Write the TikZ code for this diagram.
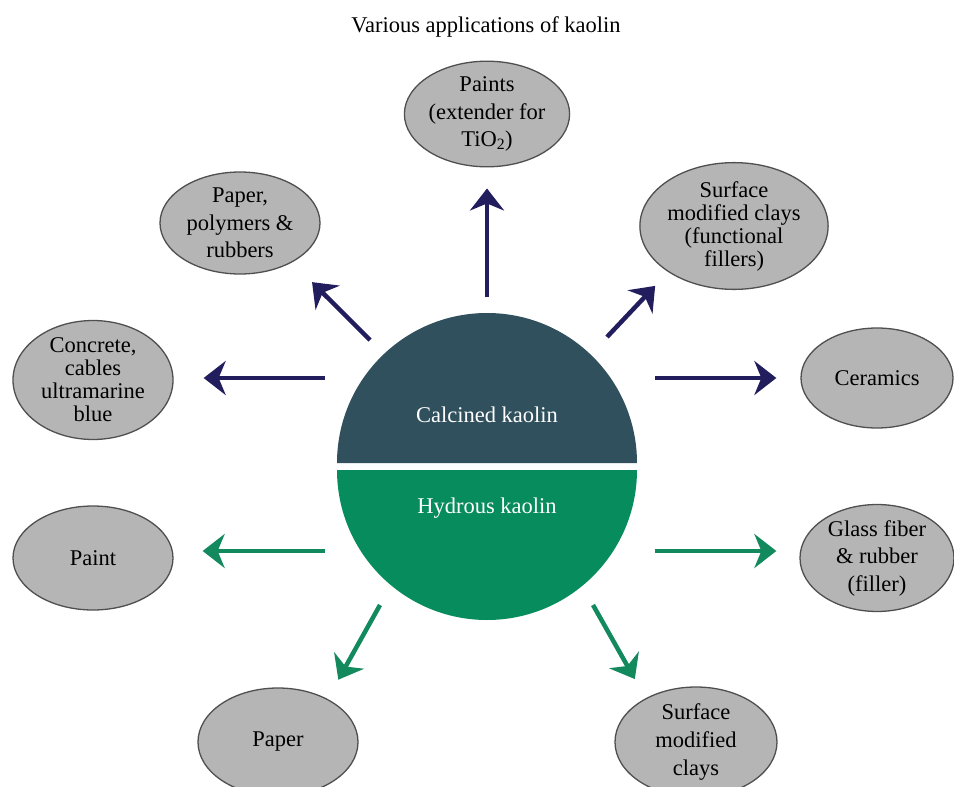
\documentclass[tikz,border=0pt]{standalone}
\usepackage{fontspec}
\setmainfont{LiberationSerif}[Extension=.ttf, UprightFont=*-Regular, BoldFont=*-Bold, ItalicFont=*-Italic, BoldItalicFont=*-BoldItalic]
\usetikzlibrary{arrows.meta, calc, shapes.geometric}
\definecolor{calcinedSlate}{HTML}{2F505C}
\definecolor{hydrousGreen}{HTML}{078C5E}
\definecolor{arrowNavy}{HTML}{221E5E}
\definecolor{arrowGreen}{HTML}{138A5E}
\definecolor{useGrey}{HTML}{B5B5B5}
\definecolor{rimGrey}{HTML}{4F4F4F}

\begin{document}
\begin{tikzpicture}[
  x=1pt, y=-1pt,
  use/.style={
    ellipse, draw=rimGrey, line width=1.3pt, fill=useGrey,
    inner sep=0pt, align=center, text=black,
    font=\rmfamily\fontsize{22.5}{27.5}\selectfont,
  },
  fourline/.style={font=\rmfamily\fontsize{22.5}{23}\selectfont},
  half/.style={font=\rmfamily\fontsize{22.5}{27.5}\selectfont, text=white},
  flow/.style={-{Stealth[length=22pt, width=34pt, inset=7pt]}, draw=#1, line width=4.5pt},
]
\useasboundingbox (0,0) rectangle (954,787);

\node[font=\rmfamily\fontsize{22.5}{27.5}\selectfont] at (486,27) (title) {Various applications of kaolin};

% split kaolin disc
\fill[calcinedSlate] (337,463) arc[start angle=180, end angle=0, radius=150pt] -- cycle;
\fill[hydrousGreen]  (337,470) arc[start angle=180, end angle=360, radius=150pt] -- cycle;
\node[half] at (487,415) (calcined) {Calcined kaolin};
\node[half] at (487,508) (hydrous)  {Hydrous kaolin};

\node[use, minimum width=160pt, minimum height=104pt] at (487,114) (paints)    {Paints\\(extender for\\TiO\textsubscript{2})};
\node[use, minimum width=160pt, minimum height=102pt] at (240,223) (paperpoly) {Paper,\\polymers \&\\rubbers};
\node[use, fourline, minimum width=160pt, minimum height=96pt]  at (93,380)  (concrete)  {Concrete,\\cables\\ultramarine\\blue};
\node[use, fourline, minimum width=162pt, minimum height=117pt] at (734,226) (surfclay)  {Surface\\modified clays\\(functional\\fillers)};
\node[use, minimum width=152pt, minimum height=100pt] at (877,378) (ceramics)  {Ceramics};

\node[use, minimum width=160pt, minimum height=104pt] at (93,558)  (paint)   {Paint};
\node[use, minimum width=154pt, minimum height=104pt] at (877,558) (glass)   {Glass fiber\\\& rubber\\(filler)};
\node[use, minimum width=160pt, minimum height=108pt] at (278,742) (paper)   {Paper};
\node[use, minimum width=162pt, minimum height=110pt] at (696,742) (surfbot) {Surface\\modified\\clays};

\coordinate (tailUp) at (487,297);
\coordinate (tailUL) at (370,340);
\coordinate (tailL)  at (325,378);
\coordinate (tailUR) at (607,337);
\coordinate (tailR)  at (655,378);
\coordinate (tailGL) at (325,551);
\coordinate (tailGR) at (655,551);
\coordinate (tailLL) at (380,605);
\coordinate (tailLR) at (593,605);

% calcined uses
\draw[flow=arrowNavy, shorten >=21pt] (tailUp) -- (paints.south);
\draw[flow=arrowNavy, shorten >=28pt] (tailUL) -- (paperpoly.323);
\draw[flow=arrowNavy, shorten >=30pt] (tailL)  -- (tailL -| concrete.east);
\draw[flow=arrowNavy, shorten >=19pt] (tailUR) -- (surfclay.215);
\draw[flow=arrowNavy, shorten >=24pt] (tailR)  -- (tailR -| ceramics.west);

% hydrous uses
\draw[flow=arrowGreen, shorten >=29pt] (tailGL) -- (tailGL -| paint.east);
\draw[flow=arrowGreen, shorten >=23pt] (tailGR) -- (tailGR -| glass.west);
\draw[flow=arrowGreen, shorten >=22pt] (tailLL) -- (paper.41);
\draw[flow=arrowGreen, shorten >=22pt] (tailLR) -- (surfbot.139.5);

\end{tikzpicture}
\end{document}
